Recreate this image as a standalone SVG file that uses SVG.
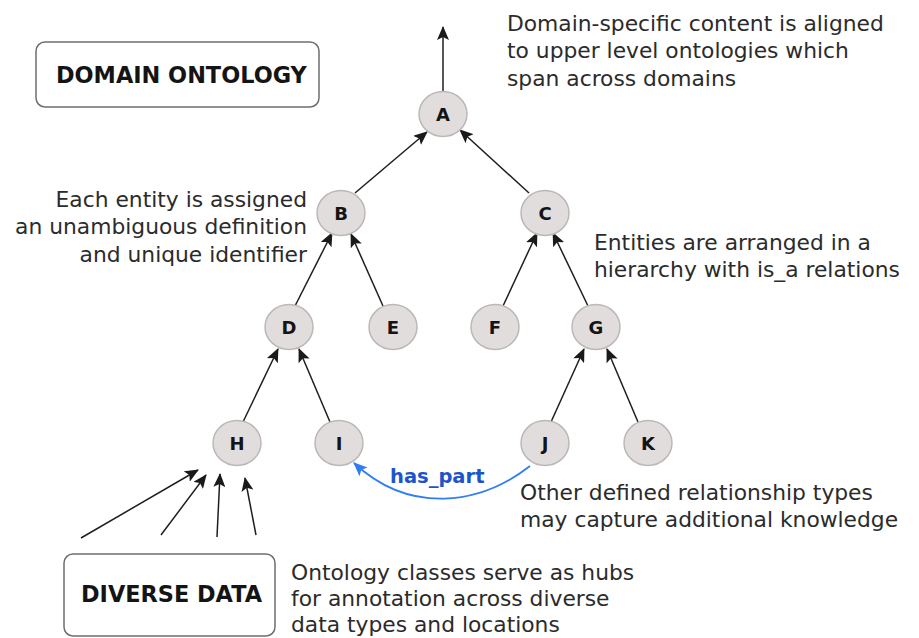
<svg xmlns="http://www.w3.org/2000/svg" width="919" height="638" viewBox="0 0 919 638">
<defs>
<marker id="ah" markerUnits="userSpaceOnUse" markerWidth="14" markerHeight="12" viewBox="0 0 14 12" refX="13" refY="6" orient="auto">
<path d="M0,0 L14,6 L0,12 L3,6 z" fill="#1a1a1a"/>
</marker>
<marker id="ahb" markerUnits="userSpaceOnUse" markerWidth="14" markerHeight="12" viewBox="0 0 14 12" refX="13" refY="6" orient="auto">
<path d="M0,0 L14,6 L0,12 L3,6 z" fill="#2f7df6"/>
</marker>
</defs>
<style>
.bg{fill:#ffffff}
.node ellipse{fill:#e2dddd;stroke:#bdb8b8;stroke-width:1.5}
.node text{font-family:"DejaVu Sans",Verdana,sans-serif;font-weight:bold;font-size:18px;fill:#141414;text-anchor:middle}
.box rect{fill:#ffffff;stroke:#6e6e6e;stroke-width:1.5}
.box text{font-family:"DejaVu Sans",Verdana,sans-serif;font-weight:bold;font-size:22.4px;fill:#141414}
.note{font-family:"DejaVu Sans",Verdana,sans-serif;font-size:21.8px;fill:#2b2b2b}
.edge{stroke:#1e1e1e;stroke-width:1.5;fill:none;marker-end:url(#ah)}
.rel{stroke:#2f7df6;stroke-width:1.8;fill:none;marker-end:url(#ahb)}
.rel-label{font-family:"DejaVu Sans",Verdana,sans-serif;font-weight:bold;font-size:19.5px;fill:#1b55c9}
</style>
<rect class="bg" x="0" y="0" width="919" height="638"/>

<g id="connectors">
<line class="edge" x1="443" y1="91" x2="443" y2="27"/>
<line class="edge" x1="355" y1="193" x2="427" y2="132"/>
<line class="edge" x1="529" y1="193" x2="460" y2="130"/>
<line class="edge" x1="295" y1="306" x2="332" y2="233"/>
<line class="edge" x1="383" y1="306" x2="351" y2="234"/>
<line class="edge" x1="503" y1="306" x2="537" y2="233"/>
<line class="edge" x1="588" y1="306" x2="553" y2="233"/>
<line class="edge" x1="243" y1="422" x2="278" y2="349"/>
<line class="edge" x1="330" y1="422" x2="299" y2="349"/>
<line class="edge" x1="551" y1="422" x2="584" y2="349"/>
<line class="edge" x1="638" y1="422" x2="607" y2="349"/>
<line class="edge" x1="81" y1="538" x2="198" y2="470"/>
<line class="edge" x1="161" y1="535" x2="206" y2="475"/>
<line class="edge" x1="217" y1="537" x2="220" y2="474"/>
<line class="edge" x1="256" y1="535" x2="245" y2="478"/>
<path class="rel" d="M530,466 C480,505 410,515 354,463"/>
<text class="rel-label" x="390" y="483">has_part</text>
</g>

<g id="domain-ontology" class="box">
<rect x="36" y="42" width="283" height="65" rx="9"/>
<text x="56" y="83">DOMAIN ONTOLOGY</text>
</g>
<g id="diverse-data" class="box">
<rect x="64" y="554" width="211" height="82" rx="9"/>
<text x="81" y="602">DIVERSE DATA</text>
</g>

<g id="node-A" class="node"><ellipse cx="443" cy="114" rx="24" ry="22.5"/><text x="443" y="120.5">A</text></g>
<g id="node-B" class="node"><ellipse cx="341" cy="213" rx="24" ry="22.5"/><text x="341" y="219.5">B</text></g>
<g id="node-C" class="node"><ellipse cx="545" cy="213" rx="24" ry="22.5"/><text x="545" y="219.5">C</text></g>
<g id="node-D" class="node"><ellipse cx="289" cy="327" rx="24" ry="22.5"/><text x="289" y="333.5">D</text></g>
<g id="node-E" class="node"><ellipse cx="393" cy="327" rx="24" ry="22.5"/><text x="393" y="333.5">E</text></g>
<g id="node-F" class="node"><ellipse cx="495" cy="327" rx="24" ry="22.5"/><text x="495" y="333.5">F</text></g>
<g id="node-G" class="node"><ellipse cx="596" cy="327" rx="24" ry="22.5"/><text x="596" y="333.5">G</text></g>
<g id="node-H" class="node"><ellipse cx="237" cy="443" rx="24" ry="22.5"/><text x="237" y="449.5">H</text></g>
<g id="node-I" class="node"><ellipse cx="339" cy="443" rx="24" ry="22.5"/><text x="339" y="449.5" font-family="'DejaVu Serif',serif">I</text></g>
<g id="node-J" class="node"><ellipse cx="545" cy="443" rx="24" ry="22.5"/><text x="545" y="449.5">J</text></g>
<g id="node-K" class="node"><ellipse cx="648" cy="443" rx="24" ry="22.5"/><text x="648" y="449.5">K</text></g>

<g id="notes">
<text class="note"><tspan x="507" y="31">Domain-specific content is aligned</tspan><tspan x="507" y="58">to upper level ontologies which</tspan><tspan x="507" y="86">span across domains</tspan></text>
<text class="note" text-anchor="end"><tspan x="307" y="207">Each entity is assigned</tspan><tspan x="307" y="234">an unambiguous definition</tspan><tspan x="307" y="262">and unique identifier</tspan></text>
<text class="note"><tspan x="594" y="250">Entities are arranged in a</tspan><tspan x="594" y="277">hierarchy with is_a relations</tspan></text>
<text class="note"><tspan x="520" y="500">Other defined relationship types</tspan><tspan x="520" y="527">may capture additional knowledge</tspan></text>
<text class="note"><tspan x="291" y="580">Ontology classes serve as hubs</tspan><tspan x="291" y="606">for annotation across diverse</tspan><tspan x="291" y="632">data types and locations</tspan></text>
</g>
</svg>
